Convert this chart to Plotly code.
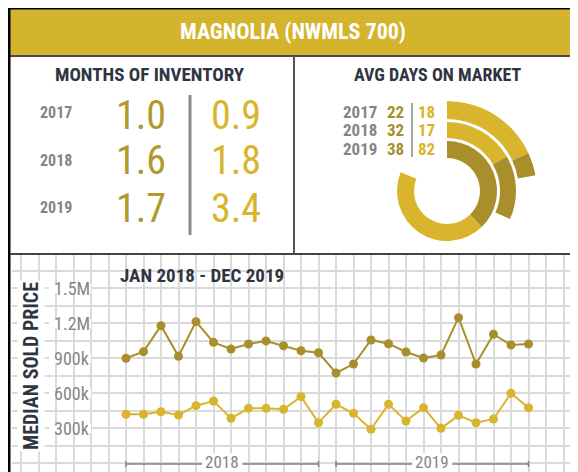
import plotly.graph_objects as go

# the page is drawn with an 8px body margin; the figure is sized/positioned to compensate
OFF = 8
W, H = 570, 464

# ---------------- data ----------------
months = [f"{m} {y}" for y in (2018, 2019)
          for m in ["Jan", "Feb", "Mar", "Apr", "May", "Jun",
                    "Jul", "Aug", "Sep", "Oct", "Nov", "Dec"]]
price_dark = [900, 957, 1180, 917, 1214, 1037, 980, 1023, 1049, 1008, 965, 948,
              774, 851, 1057, 1025, 954, 903, 928, 1248, 851, 1106, 1014, 1023]
price_light = [420, 420, 442, 414, 494, 534, 386, 471, 471, 463, 571, 348,
               506, 429, 291, 506, 363, 477, 300, 411, 348, 380, 600, 477]
price_tick_vals = [300, 600, 900, 1200, 1500]
price_tick_text = ["300k", "600k", "900k", "1.2M", "1.5M"]
year_labels = ["2018", "2019"]
year_first_idx = [0, 12]
year_last_idx = [11, 23]

inv_years = ["2017", "2018", "2019"]
inv_a = ["1.0", "1.6", "1.7"]
inv_b = ["0.9", "1.8", "3.4"]

dom_years = ["2017", "2018", "2019"]
dom_a = [22, 32, 38]
dom_b = [18, 17, 82]
# arc spans (degrees) of each ring's two segments, as drawn
ring_first_deg = [65, 60, 136]
ring_second_deg = [15, 54, 156]
ring_first_is_dark = [False, False, True]

# ---------------- style ----------------
DARK_GOLD = "#A88F2C"
GOLD = "#D8B52C"
HEADER_GOLD = "#D4B42C"
NAVY = "#2F3441"
GRAY_TEXT = "#858585"
GRID_LIGHT = "#DADADA"
GRID_DARK = "#707070"
COND = "Roboto Condensed, Open Sans Condensed, sans-serif"


def px(x):
    return (x - OFF) / W


def py(y):
    return 1 - (y - OFF) / H


X0_PX, STEP_PX = 126.0, 17.5
ZERO_PX, PX_PER_300K = 463.3, 35.0
PLOT_L, PLOT_T, PLOT_R, PLOT_B = 12, 255, 578, 472
x_range = [(PLOT_L - X0_PX) / STEP_PX, (PLOT_R - X0_PX) / STEP_PX]
y_range = [(ZERO_PX - PLOT_B) / PX_PER_300K * 300, (ZERO_PX - PLOT_T) / PX_PER_300K * 300]

xs = list(range(len(months)))

fig = go.Figure()
fig.add_trace(go.Scatter(x=xs, y=price_dark, mode="lines+markers",
                         line=dict(color=DARK_GOLD, width=2),
                         marker=dict(color=DARK_GOLD, size=9),
                         hovertext=months, showlegend=False))
fig.add_trace(go.Scatter(x=xs, y=price_light, mode="lines+markers",
                         line=dict(color=GOLD, width=2),
                         marker=dict(color=GOLD, size=9),
                         hovertext=months, showlegend=False))

ring_inner = [72, 53, 33]
ring_outer = [90, 69, 50]
for i in range(3):
    a1 = ring_first_deg[i]
    a2 = ring_second_deg[i]
    c1 = DARK_GOLD if ring_first_is_dark[i] else GOLD
    c2 = GOLD if ring_first_is_dark[i] else DARK_GOLD
    fig.add_trace(go.Barpolar(
        r=[ring_outer[i] - ring_inner[i]] * 2,
        base=[ring_inner[i]] * 2,
        theta=[a1 / 2, a1 + a2 / 2],
        width=[a1, a2],
        marker=dict(color=[c1, c2], line=dict(width=0)),
        showlegend=False, hoverinfo="skip"))

cx, cy, R = 447, 191, 90
fig.update_layout(
    polar=dict(
        domain=dict(x=[px(cx - R), px(cx + R)], y=[py(cy + R), py(cy - R)]),
        bgcolor="rgba(0,0,0,0)",
        radialaxis=dict(visible=False, range=[0, R]),
        angularaxis=dict(visible=False, rotation=90, direction="clockwise"),
        bargap=0,
    )
)

fig.update_layout(
    width=W, height=H, margin=dict(l=0, r=0, t=0, b=0),
    paper_bgcolor="white", plot_bgcolor="white",
    xaxis=dict(domain=[px(PLOT_L), 1], range=x_range, dtick=1, tick0=0,
               showgrid=True, gridcolor=GRID_LIGHT, gridwidth=1.5,
               zeroline=False, showticklabels=False, ticks=""),
    yaxis=dict(domain=[0, py(PLOT_T)], range=y_range, dtick=150, tick0=0,
               showgrid=True, gridcolor=GRID_LIGHT, gridwidth=1.5,
               zeroline=False, showticklabels=False, ticks=""),
)

shapes = []
ann = []


def text(x, y, t, size, color, weight=400, xanchor="center", yanchor="middle", **kw):
    d = dict(xref="paper", yref="paper", x=px(x), y=py(y), text=t, showarrow=False,
             xanchor=xanchor, yanchor=yanchor,
             font=dict(family=COND, size=size, color=color, weight=weight))
    d.update(kw)
    return d


# dark price lines + label boxes
for v in price_tick_vals:
    shapes.append(dict(type="line", xref="paper", yref="y", x0=px(39), x1=1,
                       y0=v, y1=v, line=dict(color=GRID_DARK, width=1.5),
                       layer="between"))
    shapes.append(dict(type="rect", xref="paper", yref="y", x0=px(49), x1=px(91),
                       y0=v - 40, y1=v + 40, fillcolor="white", line=dict(width=0),
                       layer="above"))
for v, t in zip(price_tick_vals, price_tick_text):
    ann.append(dict(xref="paper", yref="y", x=px(52), y=v, xanchor="left",
                    yanchor="middle", text=t, showarrow=False,
                    font=dict(family=COND, size=18, color=GRAY_TEXT)))

# year brackets
for lab, a, b in zip(year_labels, year_first_idx, year_last_idx):
    mid = (a + b) / 2
    shapes.append(dict(type="line", xref="x", yref="paper", x0=a, x1=b,
                       y0=py(464), y1=py(464), line=dict(color="#808080", width=1.5)))
    for e in (a, b):
        shapes.append(dict(type="line", xref="x", yref="paper", x0=e, x1=e,
                           y0=py(461), y1=py(467), line=dict(color="#808080", width=1.5)))
    shapes.append(dict(type="rect", xref="x", yref="paper", x0=mid - 1.15, x1=mid + 1.15,
                       y0=py(472), y1=py(453), fillcolor="white", line=dict(width=0),
                       layer="above"))
    ann.append(dict(xref="x", yref="paper", x=mid, y=py(462), text=lab,
                    xanchor="center", yanchor="middle", showarrow=False,
                    font=dict(family=COND, size=17, color=GRAY_TEXT)))

ann.append(text(202, 275, "JAN 2018 - DEC 2019", 19, NAVY, 700))
ann.append(text(31, 366, "MEDIAN SOLD PRICE", 20, NAVY, 700, textangle=-90,
                bgcolor="white", borderpad=1))

# frame, header, dividers
shapes += [
    dict(type="rect", xref="paper", yref="paper", x0=px(10), x1=1, y0=py(55), y1=py(9),
         fillcolor=HEADER_GOLD, line=dict(width=0), layer="above"),
    dict(type="line", xref="paper", yref="paper", x0=px(10), x1=1, y0=py(56), y1=py(56),
         line=dict(color="#4A4A48", width=2), layer="above"),
    dict(type="line", xref="paper", yref="paper", x0=px(7), x1=1, y0=py(8), y1=py(8),
         line=dict(color="black", width=3), layer="above"),
    dict(type="line", xref="paper", yref="paper", x0=px(9), x1=px(9), y0=0, y1=py(7),
         line=dict(color="black", width=3), layer="above"),
    dict(type="line", xref="paper", yref="paper", x0=px(294), x1=px(294), y0=py(254), y1=py(56),
         line=dict(color="#555555", width=2), layer="above"),
    dict(type="line", xref="paper", yref="paper", x0=px(10), x1=1, y0=py(254), y1=py(254),
         line=dict(color="#444444", width=2), layer="above"),
    dict(type="line", xref="paper", yref="paper", x0=px(190), x1=px(190), y0=py(235), y1=py(95),
         line=dict(color="#8A8A8A", width=3), layer="above"),
    dict(type="line", xref="paper", yref="paper", x0=px(412), x1=px(412), y0=py(157), y1=py(103),
         line=dict(color="#8A8A8A", width=1.5), layer="above"),
]
shapes.insert(0, dict(type="rect", xref="paper", yref="paper", x0=px(10), x1=1,
                      y0=py(254), y1=py(56), fillcolor="white", line=dict(width=0),
                      layer="below"))

ann.append(text(293, 32, "MAGNOLIA (NWMLS 700)", 22, "white", 700))
ann.append(text(150, 75, "MONTHS OF INVENTORY", 19, NAVY, 700))
ann.append(text(437, 75, "AVG DAYS ON MARKET", 18, NAVY, 700))

inv_year_y = [112, 160, 207]
inv_num_y = [115, 161, 208]
for yr, a, b, yy, yn in zip(inv_years, inv_a, inv_b, inv_year_y, inv_num_y):
    ann.append(text(56, yy, yr, 16, GRAY_TEXT, 700))
    ann.append(text(168, yn, a, 40, "#B09A2E", 400, xanchor="right"))
    ann.append(text(263, yn, b, 40, GOLD, 400, xanchor="right"))

dom_y = [112, 130, 149]
for yr, a, b, yy in zip(dom_years, dom_a, dom_b, dom_y):
    ann.append(text(341, yy, yr, 17, GRAY_TEXT, 700, xanchor="left"))
    ann.append(text(385, yy, str(a), 17, DARK_GOLD, 700, xanchor="left"))
    ann.append(text(416, yy, str(b), 17, GOLD, 700, xanchor="left"))

fig.update_layout(shapes=shapes, annotations=ann)
fig.write_html("out.html")
